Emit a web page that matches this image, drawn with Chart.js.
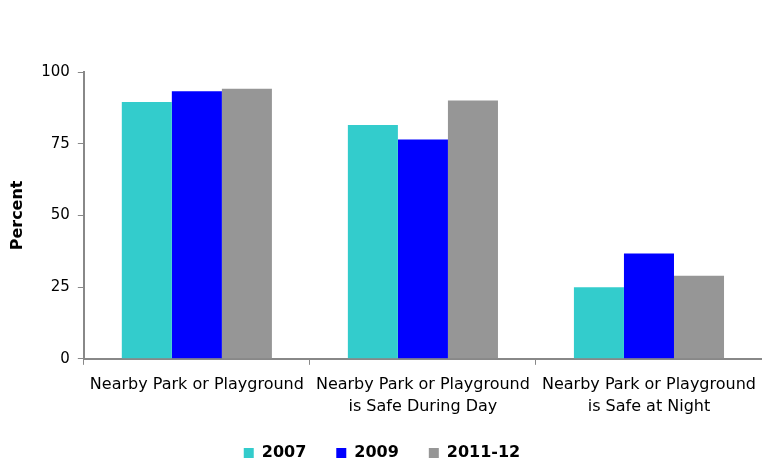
<!DOCTYPE html>
<html>
<head>
<meta charset="utf-8">
<script src="https://cdn.jsdelivr.net/npm/chart.js@4"></script>
<style>
    html, body { margin: 0; padding: 0; background: #fff; }
    #wrap { width: 762px; height: 459px; position: relative; }
</style>
</head>
<body>
<div id="wrap"><canvas id="parkChart"></canvas></div>
<script>
// Categories and series
const categories = [
    'Nearby Park or Playground',
    ['Nearby Park or Playground', 'is Safe During Day'],
    ['Nearby Park or Playground', 'is Safe at Night']
];
const seriesNames = ['2007', '2009', '2011-12'];
const values2007 = [89.5, 81.5, 25];
const values2009 = [93.3, 76.5, 36.7];
const values2011 = [94.2, 90.1, 29];
const yTicks = [0, 25, 50, 75, 100];

const colors = ['#33CCCC', '#0000FF', '#969696'];
const fontFamily = "'DejaVu Sans', Verdana, sans-serif";

Chart.defaults.font.family = fontFamily;
Chart.defaults.color = '#000';

const ctx = document.getElementById('parkChart');

new Chart(ctx.getContext('2d'), {
    type: 'bar',
    data: {
        labels: categories,
        datasets: [values2007, values2009, values2011].map((vals, i) => ({
            label: seriesNames[i],
            data: vals,
            backgroundColor: colors[i],
            borderWidth: 0,
            categoryPercentage: 0.664,
            barPercentage: 1.0
        }))
    },
    options: {
        responsive: true,
        maintainAspectRatio: false,
        animation: false,
        layout: {
            padding: { top: 72, right: 0, left: 2, bottom: -12 }
        },
        plugins: {
            tooltip: { enabled: false },
            legend: {
                position: 'bottom',
                labels: {
                    boxWidth: 10,
                    boxHeight: 10,
                    padding: 30,
                    font: { size: 16, weight: 'bold' },
                    color: '#000'
                }
            }
        },
        scales: {
            x: {
                offset: true,
                // shave the axis box so the plot reaches further down,
                // and let the plot run to the right edge
                afterFit: scale => {
                    scale.height -= 12;
                    scale.paddingRight = 0;
                },
                grid: {
                    offset: true,
                    drawOnChartArea: false,
                    drawTicks: true,
                    tickLength: 6,
                    color: '#888'
                },
                border: { color: '#888', width: 2 },
                ticks: {
                    maxRotation: 0,
                    autoSkip: false,
                    font: { size: 16, lineHeight: 1.38 },
                    color: '#000',
                    padding: 9
                }
            },
            y: {
                min: 0,
                max: 100,
                afterBuildTicks: axis => {
                    axis.ticks = yTicks.map(v => ({ value: v }));
                },
                grid: {
                    drawOnChartArea: false,
                    drawTicks: true,
                    tickLength: 6,
                    color: '#888'
                },
                border: { color: '#888', width: 2 },
                ticks: {
                    font: { size: 15 },
                    color: '#000',
                    padding: 8
                },
                title: {
                    display: true,
                    text: 'Percent',
                    font: { size: 16, weight: 'bold' },
                    color: '#000',
                    padding: { top: 6, bottom: 6 }
                }
            }
        }
    }
});
</script>
</body>
</html>
